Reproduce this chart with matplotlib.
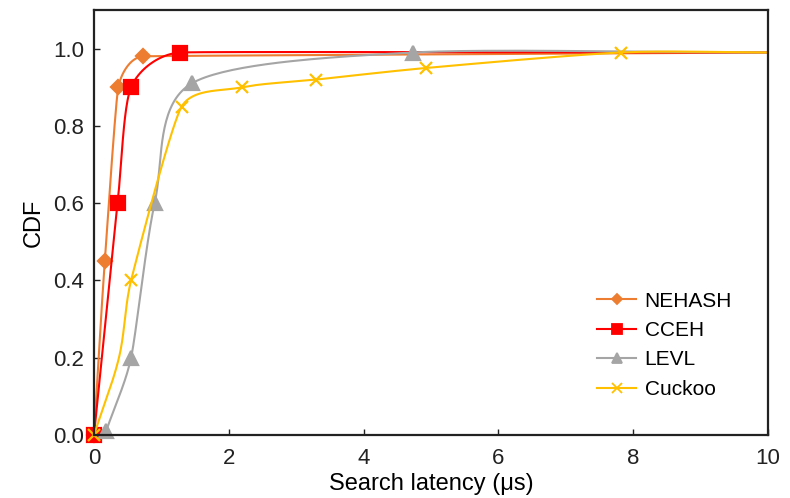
import numpy as np
import matplotlib
matplotlib.use("Agg")
import matplotlib.pyplot as plt
from matplotlib.lines import Line2D

plt.rcParams['font.family'] = ['Liberation Sans', 'DejaVu Sans']

# data (x = latency in us, y = CDF)
nehash_x = [0, 0.16, 0.36, 0.73, 10]
nehash_y = [0, 0.45, 0.90, 0.98, 0.99]

cceh_x = [0, 0.35, 0.55, 1.28, 10]
cceh_y = [0, 0.60, 0.90, 0.99, 0.99]

levl_x = [0.18, 0.55, 0.90, 1.45, 4.73, 10]
levl_y = [0.01, 0.20, 0.60, 0.91, 0.99, 0.99]

cuckoo_x = [0, 0.37, 0.55, 1.30, 2.20, 3.30, 4.93, 7.82, 10]
cuckoo_y = [0, 0.20, 0.40, 0.85, 0.90, 0.92, 0.95, 0.99, 0.99]

# which points carry a marker
nehash_mk = [0, 1, 2, 3]
cceh_mk = [0, 1, 2, 3]
levl_mk = [0, 1, 2, 3, 4]
cuckoo_mk = [0, 2, 3, 4, 5, 6, 7]

x_ticks = [0, 2, 4, 6, 8, 10]
y_ticks = [0.0, 0.2, 0.4, 0.6, 0.8, 1.0]

# rough pixels per data unit, so the smoothing is done in screen space
SX, SY = 67.4, 387.0


def smooth(xs, ys, n=40):
    p = np.column_stack([np.array(xs) * SX, np.array(ys) * SY])
    m = len(p)
    tang = []
    for i in range(m):
        a = p[max(i - 1, 0)]
        b = p[min(i + 1, m - 1)]
        d = b - a
        tang.append(d / np.linalg.norm(d))
    out = []
    for i in range(m - 1):
        p1, p2 = p[i], p[i + 1]
        L = np.linalg.norm(p2 - p1)
        l1 = L if i == 0 else min(L, np.linalg.norm(p1 - p[i - 1]))
        l2 = L if i == m - 2 else min(L, np.linalg.norm(p[i + 2] - p2))
        c1 = p1 + tang[i] * l1 / 3
        c2 = p2 - tang[i + 1] * l2 / 3
        t = np.linspace(0, 1, n)[:, None]
        seg = (1 - t) ** 3 * p1 + 3 * (1 - t) ** 2 * t * c1 + 3 * (1 - t) * t ** 2 * c2 + t ** 3 * p2
        out.append(seg)
    s = np.vstack(out)
    return s[:, 0] / SX, s[:, 1] / SY


series = [
    ("NEHASH", nehash_x, nehash_y, nehash_mk, "#ED7D31", "D", 7.5, 5.5),
    ("CCEH", cceh_x, cceh_y, cceh_mk, "#FF0000", "s", 10, 7.5),
    ("LEVL", levl_x, levl_y, levl_mk, "#A5A5A5", "^", 10, 7.5),
    ("Cuckoo", cuckoo_x, cuckoo_y, cuckoo_mk, "#FFC000", "x", 9, 7),
]

fig = plt.figure(figsize=(7.9, 4.98), dpi=100)
ax = fig.add_axes([0.119, 0.1265, 0.853, 0.8534])

handles = []
for name, xs, ys, mks, col, mk, ms, lms in series:
    sx, sy = smooth(xs, ys)
    ax.plot(sx, sy, color=col, lw=1.5)
    ax.plot(np.array(xs)[mks], np.array(ys)[mks], ls='none', marker=mk,
            color=col, ms=ms, mew=1.6, clip_on=False)
    handles.append(Line2D([], [], color=col, lw=1.5, marker=mk,
                          ms=lms, mew=1.3, label=name))

ax.set_xlim(0, 10)
ax.set_ylim(0, 1.1)
ax.set_xticks(x_ticks)
ax.set_yticks(y_ticks)
ax.set_yticklabels([f"{v:.1f}" for v in y_ticks])
ax.tick_params(direction='in', length=4, width=1, labelsize=16, colors='#222222')
ax.tick_params(axis='x', pad=9)
ax.tick_params(axis='y', pad=7)
for sp in ax.spines.values():
    sp.set_linewidth(1.6)
    sp.set_color('#222222')

ax.set_xlabel("Search latency (μs)", fontsize=17, labelpad=3)
ax.set_ylabel("CDF", fontsize=17, labelpad=6)

ax.legend(handles=handles, loc='lower left', bbox_to_anchor=(0.746, 0.085),
          frameon=False, fontsize=15, handlelength=1.9, labelspacing=0.5,
          handletextpad=0.4, borderpad=0, borderaxespad=0)

fig.savefig("out.png", dpi=100)
